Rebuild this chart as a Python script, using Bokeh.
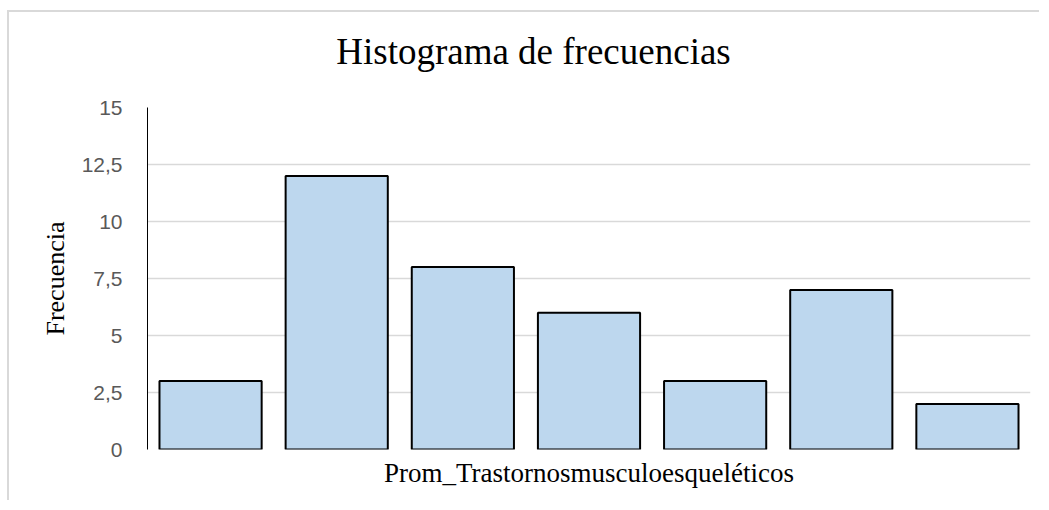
from bokeh.plotting import figure
from bokeh.models import Range1d, FixedTicker, ColumnDataSource, Div
from bokeh.layouts import column
from bokeh.embed import file_html
from bokeh.resources import INLINE

# Data
bins = ["1", "2", "3", "4", "5", "6", "7"]
frequencies = [3, 12, 8, 6, 3, 7, 2]
y_ticks = [0, 2.5, 5, 7.5, 10, 12.5, 15]
y_tick_labels = ["0", "2,5", "5", "7,5", "10", "12,5", "15"]

title_text = "Histograma de frecuencias"
x_label = "Prom_Trastornosmusculoesqueléticos"
y_label = "Frecuencia"

xs = [i + 0.5 for i in range(len(bins))]
src = ColumnDataSource(dict(x=xs, top=frequencies, bin=bins))

title_div = Div(
    text=('<div style="width:1030px;font-family:\'Liberation Serif\';font-size:37px;'
          'line-height:42px;text-align:center;padding-top:19px;text-indent:19px;'
          'color:#000000;white-space:nowrap;box-sizing:border-box">' + title_text + '</div>'),
    width=1030, height=85, margin=0)

p = figure(width=1030, height=403, output_backend="svg", toolbar_location=None,
           x_range=Range1d(0, len(bins)), y_range=Range1d(0, 15),
           min_border_left=138, min_border_right=9, min_border_top=10, min_border_bottom=51)

p.vbar(x="x", top="top", width=0.81, bottom=0, source=src,
       fill_color="#BDD7EE", line_color="#000000", line_width=2)

p.outline_line_color = None
p.xgrid.grid_line_color = None
p.ygrid.grid_line_color = "#D9D9D9"
p.ygrid.grid_line_width = 1.5

yax = p.yaxis[0]
yax.ticker = FixedTicker(ticks=y_ticks)
yax.major_label_overrides = {t: l for t, l in zip(y_ticks, y_tick_labels)}
yax.major_tick_line_color = None
yax.minor_tick_line_color = None
yax.major_tick_out = 0
yax.major_label_standoff = 25
yax.major_label_text_font = "Liberation Sans"
yax.major_label_text_font_size = "21px"
yax.major_label_text_color = "#595959"
yax.axis_line_color = "#000000"
yax.axis_line_width = 1
yax.axis_label = y_label
yax.axis_label_text_font = "Liberation Serif"
yax.axis_label_text_font_size = "26px"
yax.axis_label_text_font_style = "normal"
yax.axis_label_text_color = "#000000"
yax.axis_label_standoff = 9

xax = p.xaxis[0]
xax.ticker = FixedTicker(ticks=[])
xax.major_tick_line_color = None
xax.minor_tick_line_color = None
xax.major_tick_out = 0
xax.major_label_standoff = 0
xax.major_label_text_font_size = "0px"
xax.axis_line_color = None
xax.axis_label = x_label
xax.axis_label_text_font = "Liberation Serif"
xax.axis_label_text_font_size = "27px"
xax.axis_label_text_font_style = "normal"
xax.axis_label_text_color = "#000000"
xax.axis_label_standoff = 8

layout = column(title_div, p, spacing=0)
layout.styles = {"border-top": "2px solid #d9d9d9", "border-left": "2px solid #d9d9d9",
                 "margin-top": "10px", "margin-left": "7px"}

open("out.html", "w").write(file_html(layout, INLINE))
